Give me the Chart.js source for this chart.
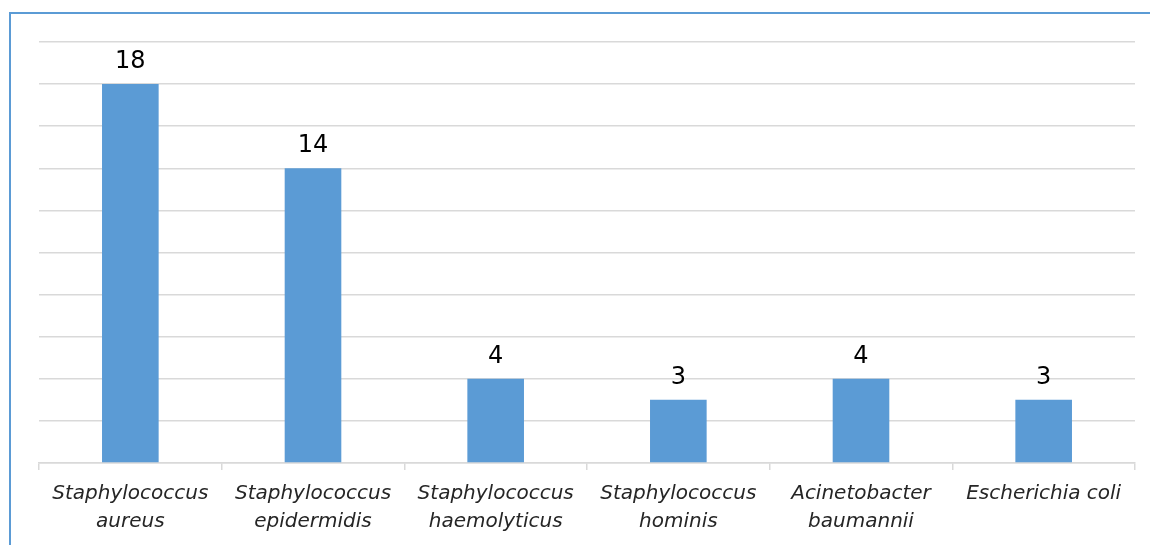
<!DOCTYPE html>
<html>
<head>
<meta charset="utf-8">
<script src="https://cdn.jsdelivr.net/npm/chart.js@4"></script>
<style>
  body { margin: 0; background: #fff; }
  #wrap { position: relative; width: 1150px; height: 545px; }
  #frame {
    position: absolute; left: 9px; top: 12px; right: 0; bottom: 0;
    border-left: 2px solid #5B9BD5; border-top: 2px solid #5B9BD5;
    pointer-events: none;
  }
</style>
</head>
<body>
<div id="wrap">
  <canvas id="bacteriaChart" width="1150" height="545"></canvas>
  <div id="frame"></div>
</div>
<script>
const species = [
  ["Staphylococcus", "aureus"],
  ["Staphylococcus", "epidermidis"],
  ["Staphylococcus", "haemolyticus"],
  ["Staphylococcus", "hominis"],
  ["Acinetobacter", "baumannii"],
  ["Escherichia coli"],
];
const counts = [18, 14, 4, 3, 4, 3];
const yMax = 20;
const yStep = 2;

// draw the value above each bar
const valueLabels = {
  id: "valueLabels",
  afterDatasetsDraw(chart) {
    const ctx = chart.ctx;
    const meta = chart.getDatasetMeta(0);
    ctx.save();
    ctx.font = "24px 'DejaVu Sans'";
    ctx.fillStyle = "#000";
    ctx.textAlign = "center";
    ctx.textBaseline = "alphabetic";
    meta.data.forEach((bar, i) => {
      ctx.fillText(String(counts[i]), bar.x, bar.y - 16);
    });
    ctx.restore();
  },
};

const ctx = document.getElementById("bacteriaChart").getContext("2d");
new Chart(ctx, {
  type: "bar",
  data: {
    labels: species,
    datasets: [
      {
        data: counts,
        backgroundColor: "#5B9BD5",
        borderWidth: 0,
        categoryPercentage: 1,
        barPercentage: 0.31,
      },
    ],
  },
  options: {
    responsive: false,
    devicePixelRatio: 1,
    animation: false,
    layout: { padding: { left: 39, right: 15, top: 42, bottom: 0 } },
    plugins: {
      legend: { display: false },
      tooltip: { enabled: false },
    },
    scales: {
      x: {
        grid: {
          offset: true,
          drawOnChartArea: false,
          color: "#D9D9D9",
          lineWidth: 1.5,
          tickLength: 7,
        },
        border: { color: "#D9D9D9", width: 1.5 },
        ticks: {
          color: "#262626",
          padding: 10,
          font: { family: "'DejaVu Sans'", size: 20, style: "italic", lineHeight: 1.38 },
          maxRotation: 0,
          autoSkip: false,
        },
        afterFit(scale) {
          scale.height = 82;
        },
      },
      y: {
        min: 0,
        max: yMax,
        ticks: { display: false, stepSize: yStep },
        grid: { color: "#D9D9D9", lineWidth: 1.5, drawTicks: false },
        border: { display: false },
        afterFit(scale) {
          scale.width = 0;
        },
      },
    },
  },
  plugins: [valueLabels],
});
</script>
</body>
</html>
